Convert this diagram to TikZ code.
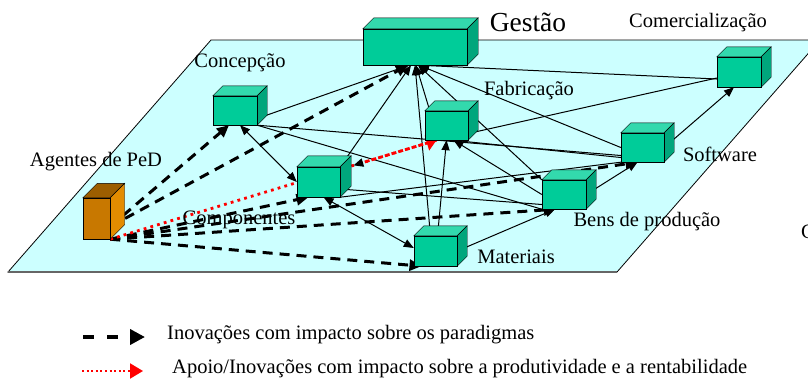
\documentclass[tikz,border=0pt]{standalone}
\usepackage{fontspec}
\setmainfont{Liberation Serif}
\usetikzlibrary{arrows.meta,calc}
\definecolor{plano}{HTML}{CCFFFF}
\definecolor{frente}{HTML}{00CC99}
\definecolor{topo}{HTML}{33D9AD}
\definecolor{lado}{HTML}{00A67C}
\definecolor{laranja}{HTML}{C87800}
\definecolor{laranjatopo}{HTML}{9C5E00}
\definecolor{laranjalado}{HTML}{E38C00}
\newcommand{\cubo}[5]{%
  \filldraw[fill=#4] (#1.north west) -- ++(#2,-#2) -- ([shift={(#2,-#2)}]#1.north east) -- (#1.north east) -- cycle;
  \filldraw[fill=#5] (#1.north east) -- ++(#2,-#2) -- ([shift={(#2,-#2)}]#1.south east) -- (#1.south east) -- cycle;
  \filldraw[fill=#3] (#1.south west) rectangle (#1.north east);}

\begin{document}
\begin{tikzpicture}[x=1pt,y=-1pt,
  caixa/.style={inner sep=0pt,minimum width=43pt,minimum height=29pt},
  rotulo/.style={inner sep=0pt,font=\fontsize{20.5}{24}\selectfont},
  seta/.style={line width=1pt,-{Triangle[length=10pt,width=8pt]}},
  duplaseta/.style={line width=1pt,{Triangle[length=10pt,width=8pt]}-{Triangle[length=10pt,width=8pt]}},
  linha/.style={line width=1pt},
  tracejado/.style={line width=3pt,dash pattern=on 10pt off 7pt,-{Triangle[length=12pt,width=11pt]}},
  pontilhado/.style={red,line width=2.8pt,dash pattern=on 2.8pt off 4.2pt,-{Triangle[length=10pt,width=15pt]}},
  legtrac/.style={line width=4pt,dash pattern=on 11pt off 13pt,-{Triangle[length=15pt,width=15pt]}},
  legpont/.style={red,line width=2pt,dash pattern=on 2pt off 2.6pt,-{Triangle[length=13pt,width=15pt]}}]
\useasboundingbox (0,0) rectangle (808,378);

\filldraw[fill=plano,line width=0.8pt] (8,272) -- (211,40) -- (820,40) -- (617,272) -- cycle;
\draw[black!60,line width=2pt] (8,272) -- (617,272);

\node[caixa,minimum width=104pt,minimum height=36pt] (gestao) at (415,47) {};
\node[caixa,minimum width=44pt] (concepcao) at (235,110.5) {};
\node[caixa,minimum height=30pt] (componentes) at (318.5,182) {};
\node[caixa] (fabricacao) at (446.5,125.5) {};
\node[caixa,minimum width=44pt,minimum height=30pt] (comercializacao) at (739,72) {};
\node[caixa] (software) at (642.5,147.5) {};
\node[caixa,minimum width=44pt] (bens) at (564,194.5) {};
\node[caixa,minimum height=30pt] (materiais) at (435.5,251) {};
\node[caixa,minimum width=27pt,minimum height=41pt] (agentes) at (96.5,218.5) {};

\path[linha] (concepcao.south east) edge ([yshift=-8pt]software.west)
  (concepcao.south east) edge (bens.south west)
  (componentes.south east) edge (software.south west)
  ([yshift=-7pt]componentes.east) edge ([yshift=-10pt]bens.west)
  ([yshift=-8pt]fabricacao.east) edge ([yshift=-6pt]comercializacao.west);
\path[seta] ([yshift=-8pt]concepcao.east) edge ([xshift=-6pt]gestao.south)
  (componentes.north east) edge ([xshift=-4pt]gestao.south)
  ([xshift=5pt]fabricacao.north west) edge ([xshift=1pt]gestao.south)
  ([xshift=-5pt]materiais.north) edge (gestao.south)
  (bens.north west) edge ([xshift=3pt]gestao.south)
  (software.west) edge ([xshift=4pt]gestao.south)
  ([yshift=-7pt]comercializacao.west) edge ([xshift=4pt]gestao.south)
  ([xshift=2pt]materiais.north) edge (fabricacao.south)
  ([yshift=-10pt]software.west) edge ([xshift=6pt]fabricacao.south)
  (bens.west) edge ([xshift=7pt]fabricacao.south)
  (materiais.east) edge ([xshift=-9pt]bens.south)
  (bens.east) edge ([xshift=-5pt]software.south)
  (software.east) edge ([xshift=-5pt]comercializacao.south);
\path[duplaseta] ([xshift=5pt]concepcao.south) edge (componentes.west)
  ([xshift=5pt]componentes.south) edge ([yshift=3pt]materiais.west);
\path[tracejado] ([yshift=-8pt]agentes.east) edge ([xshift=-6pt]concepcao.south)
  ([yshift=-8pt]agentes.east) edge ([xshift=-7pt]gestao.south)
  (agentes.south east) edge ([xshift=-10pt]componentes.south)
  (agentes.south east) edge ([xshift=-5pt]software.south)
  (agentes.south east) edge ([xshift=-8pt]bens.south)
  (agentes.south east) edge ([xshift=-14pt]materiais.south);
\coordinate (cruza) at ($(agentes.south east)!0.745!([xshift=-10pt]fabricacao.south)$);
\path[pontilhado] (agentes.south east) edge ([xshift=-10pt]fabricacao.south);
\path[pontilhado,-{Triangle[length=10pt,width=8pt,black]}] ([xshift=-10pt]fabricacao.south) edge (cruza);

\cubo{gestao}{11}{frente}{topo}{lado}
\cubo{concepcao}{10}{frente}{topo}{lado}
\cubo{componentes}{11}{frente}{topo}{lado}
\cubo{fabricacao}{10}{frente}{topo}{lado}
\cubo{comercializacao}{10}{frente}{topo}{lado}
\cubo{software}{10}{frente}{topo}{lado}
\cubo{bens}{10}{frente}{topo}{lado}
\cubo{materiais}{10}{frente}{topo}{lado}
\cubo{agentes}{14.5}{laranja}{laranjatopo}{laranjalado}

\node[rotulo,font=\fontsize{27.5}{30}\selectfont] (tgestao) at (528,22) {Gestão};
\node[rotulo] (tcomercializacao) at (698,23) {Comercialização};
\node[rotulo] (tconcepcao) at (240,63) {Concepção};
\node[rotulo] (tfabricacao) at (529,91) {Fabricação};
\node[rotulo] (tagentes) at (96,162) {Agentes de PeD};
\node[rotulo] (tsoftware) at (720,154) {Software};
\node[rotulo] (tcomponentes) at (239,220) {Componentes};
\node[rotulo] (tbens) at (647,222) {Bens de produção};
\node[rotulo] (tmateriais) at (516,257) {Materiais};
\node[rotulo,anchor=west] (tcorte) at (801,232) {C};

\coordinate (leg1) at (83,337);
\coordinate (leg1f) at (145,337);
\coordinate (leg2) at (82,371);
\coordinate (leg2f) at (143,371);
\node[rotulo,anchor=west] (tleg1) at (167,334.5) {Inovações com impacto sobre os paradigmas};
\node[rotulo,anchor=west] (tleg2) at (172,369) {Apoio/Inovações com impacto sobre a produtividade e a rentabilidade};
\draw[legtrac] (leg1) -- (leg1f);
\draw[legpont] (leg2) -- (leg2f);
\end{tikzpicture}
\end{document}
